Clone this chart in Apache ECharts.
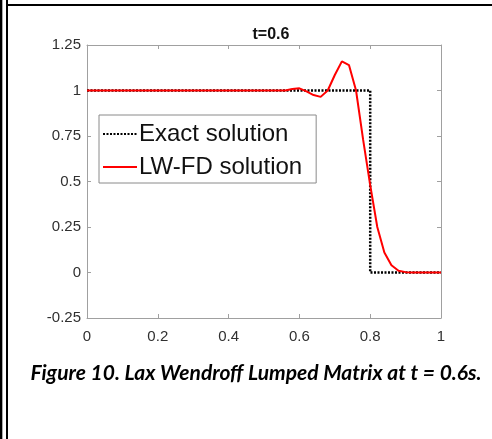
<!DOCTYPE html>
<html><head><meta charset="utf-8">
<script src="https://cdn.jsdelivr.net/npm/echarts@6/dist/echarts.min.js"></script>
<style>html,body{margin:0;padding:0;background:#fff}#c{width:492px;height:439px}</style>
</head><body><div id="c"></div>
<script>
const titleText = "t=0.6";
const captionText = "Figure 10. Lax Wendroff Lumped Matrix at t = 0.6s.";
const seriesNames = ["Exact solution", "LW-FD solution"];
const exactX = [0, 0.8, 0.8, 1];
const exactY = [1, 1, 0, 0];
const lwX = [0,0.02,0.04,0.06,0.08,0.1,0.12,0.14,0.16,0.18,0.2,0.22,0.24,0.26,0.28,0.3,0.32,0.34,0.36,0.38,0.4,0.42,0.44,0.46,0.48,0.5,0.52,0.54,0.56,0.58,0.6,0.62,0.64,0.66,0.68,0.7,0.72,0.74,0.76,0.78,0.8,0.82,0.84,0.86,0.88,0.9,0.92,0.94,0.96,0.98,1];
const lwY = [1,1,1,1,1,1,1,1,1,1,1,1,1,1,1,1,1,1,1,1,1,1,1,1,1,1,1,1,1.0,1.008,1.012,0.995,0.975,0.965,1.0,1.085,1.16,1.14,1.0,0.73,0.48,0.25,0.11,0.04,0.01,0.002,0,0,0,0,0];
const xTicks = [0, 0.2, 0.4, 0.6, 0.8, 1];
const yTicks = [-0.25, 0, 0.25, 0.5, 0.75, 1, 1.25];

const chart = echarts.init(document.getElementById('c'));
const axisCol = '#a0a0a0';
const labCol = '#303030';
const zip = (a, b) => a.map((v, i) => [v, b[i]]);
const xmin = xTicks[0], xmax = xTicks[xTicks.length-1];
const ymin = yTicks[0], ymax = yTicks[yTicks.length-1];
chart.setOption({
  animation: false,
  backgroundColor: '#fff',
  title: {text: titleText, left: 266, top: 22, textAlign: 'center',
    textStyle: {fontFamily: 'Liberation Sans', fontWeight: 'bold', fontSize: 16, color: '#111'}},
  grid: {left: 87, right: 51, top: 45, bottom: 121},
  xAxis: [{type: 'value', min: xmin, max: xmax, interval: 0.2,
    axisLine: {onZero: false, lineStyle: {color: axisCol}},
    axisTick: {inside: true, length: 4, lineStyle: {color: axisCol}},
    axisLabel: {color: labCol, fontFamily: 'Liberation Sans', fontSize: 15, margin: 11},
    splitLine: {show: false}},
   {type: 'value', position: 'top', min: xmin, max: xmax, interval: 0.2,
    axisLine: {show: true, onZero: false, lineStyle: {color: axisCol}},
    axisTick: {show: true, inside: true, length: 4, lineStyle: {color: axisCol}},
    axisLabel: {show: false}, splitLine: {show: false}}],
  yAxis: [{type: 'value', min: ymin, max: ymax, interval: 0.25,
    axisLine: {show: true, onZero: false, lineStyle: {color: axisCol}},
    axisTick: {show: true, inside: true, length: 4, lineStyle: {color: axisCol}},
    axisLabel: {color: labCol, fontFamily: 'Liberation Sans', fontSize: 15, margin: 6},
    splitLine: {show: false}},
   {type: 'value', position: 'right', min: ymin, max: ymax, interval: 0.25,
    axisLine: {show: true, onZero: false, lineStyle: {color: axisCol}},
    axisTick: {show: true, inside: true, length: 4, lineStyle: {color: axisCol}},
    axisLabel: {show: false}, splitLine: {show: false}}],
  legend: {orient: 'vertical', left: 99, top: 115, width: 217,
    padding: [5, 14, 2, 3], itemGap: 5, itemWidth: 34, itemHeight: 14,
    borderColor: '#8a8a8a', borderWidth: 1, backgroundColor: '#fff',
    itemStyle: {opacity: 0},
    textStyle: {fontFamily: 'Liberation Sans', fontSize: 24, lineHeight: 28, color: '#111', padding: [0, 0, 0, -3]},
    data: seriesNames},
  series: [
    {name: seriesNames[0], type: 'line', data: zip(exactX, exactY), symbol: 'none',
      lineStyle: {color: '#000', width: 2.5, type: [2, 1.5]}, itemStyle: {color: '#000'}, z: 3},
    {name: seriesNames[1], type: 'line', data: zip(lwX, lwY), symbol: 'none',
      lineStyle: {color: '#ff0000', width: 2}, itemStyle: {color: '#ff0000'}, z: 4}
  ],
  graphic: [
    {type: 'rect', shape: {x: 0, y: 0, width: 2, height: 439}, style: {fill: '#000'}},
    {type: 'rect', shape: {x: 2, y: 0, width: 1, height: 439}, style: {fill: '#aaa'}},
    {type: 'rect', shape: {x: 6, y: 0, width: 2, height: 439}, style: {fill: '#000'}},
    {type: 'rect', shape: {x: 6, y: 4, width: 486, height: 2}, style: {fill: '#000'}},
    {type: 'text', x: 256, y: 373, style: {text: captionText, align: 'center', verticalAlign: 'middle',
      font: 'italic bold 21px Lato', fill: '#000'}}
  ]
});
</script></body></html>
